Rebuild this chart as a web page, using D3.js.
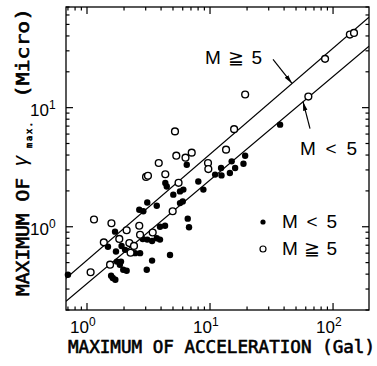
<!DOCTYPE html>
<html>
<head><meta charset="utf-8">
<title>Max shear strain vs max acceleration</title>
<style>
body { margin:0; background:#fff; }
text { font-family: "Liberation Sans", Arial, sans-serif; fill:#000; }
.title { font-family: "DejaVu Sans Mono", monospace; stroke:#000; stroke-width:0.6; }
</style>
</head>
<body>
<svg width="377" height="366"></svg>
<script src="https://cdn.jsdelivr.net/npm/d3@7/dist/d3.min.js"></script>
<script>
// M < 5 (filled dots)
var smallAcc   = [0.70,1.69,1.48,1.72,1.91,2.04,1.89,1.75,1.85,1.97,2.10,1.62,1.70,1.57,
                  2.66,2.87,3.09,3.69,4.33,4.45,5.03,5.70,6.07,5.70,6.00,6.47,8.03,8.83,
                  11.0,12.3,12.4,15.0,16.0,14.5,19.3,18.7,6.59,6.75,3.92,4.31,2.84,3.09,
                  3.69,3.38,3.92,2.70,2.46,3.38,4.73,3.06,37.1,2.30];
var smallGamma = [0.395,0.91,0.68,0.62,0.69,0.64,0.51,0.51,0.48,0.435,0.427,0.371,0.359,0.388,
                  1.39,1.35,1.60,1.50,2.33,2.18,1.86,1.98,2.05,1.58,1.63,3.32,2.40,2.05,
                  2.74,3.11,2.70,3.54,3.11,2.83,3.95,3.38,1.17,0.99,1.00,1.02,0.79,0.78,
                  0.80,0.76,0.78,0.60,0.60,0.52,0.58,0.435,7.2,0.70];
// M >= 5 (open circles)
var largeAcc   = [1.14,1.58,1.37,1.07,1.54,1.83,2.10,2.21,2.26,2.41,2.66,2.70,3.02,3.13,
                  3.42,3.83,4.33,5.32,6.32,7.10,5.55,4.97,9.63,9.69,13.5,5.19,15.7,19.3,
                  63.0,86.1,137,148];
var largeGamma = [1.15,1.07,0.74,0.415,0.48,0.79,0.935,0.73,0.605,0.69,1.02,0.857,2.62,2.68,
                  0.895,3.43,2.76,3.95,3.80,4.19,2.34,1.35,3.43,3.05,4.44,6.32,6.6,12.9,
                  12.4,25.7,41.1,42.4];
var xTicks = [1, 10, 100];
var yTicks = [1, 10];
// regression lines gamma = a * acc^b
var fitLarge = {a: 0.525, b: 0.89};
var fitSmall = {a: 0.333, b: 0.87};

var svg = d3.select("svg");
var x = d3.scaleLog().domain([0.675, 196]).range([66, 369]);
var y = d3.scaleLog().domain([0.2, 70]).range([310, 7]);

svg.append("defs").append("clipPath").attr("id", "clip")
  .append("rect").attr("x", 66).attr("y", 7).attr("width", 303).attr("height", 303);
svg.select("defs").append("marker")
  .attr("id", "head").attr("viewBox", "0 -3 9 6").attr("refX", 9).attr("refY", 0)
  .attr("markerWidth", 9).attr("markerHeight", 6).attr("markerUnits", "userSpaceOnUse")
  .attr("orient", "auto")
  .append("path").attr("d", "M0,-2.2L9,0L0,2.2Z").attr("fill", "#000");

// frame
svg.append("rect").attr("x", 66).attr("y", 7).attr("width", 303).attr("height", 303)
  .attr("fill", "none").attr("stroke", "#000").attr("stroke-width", 1.3);

// log ticks on all four sides, pointing inward
function logTicks(dom) {
  var t = [];
  for (var e = -1; e <= 2; e++)
    for (var k = 1; k <= 9; k++) {
      var v = k * Math.pow(10, e);
      if (v >= dom[0] && v <= dom[1]) t.push({v: v, major: k === 1});
    }
  return t;
}
var tk = svg.append("g").attr("stroke", "#000").attr("stroke-width", 1.2);
logTicks(x.domain()).forEach(function(d) {
  var L = d.major ? 7 : 3.5;
  tk.append("line").attr("x1", x(d.v)).attr("x2", x(d.v)).attr("y1", 310).attr("y2", 310 - L);
  tk.append("line").attr("x1", x(d.v)).attr("x2", x(d.v)).attr("y1", 7).attr("y2", 7 + L);
});
logTicks(y.domain()).forEach(function(d) {
  var L = d.major ? 7 : 3.5;
  tk.append("line").attr("y1", y(d.v)).attr("y2", y(d.v)).attr("x1", 66).attr("x2", 66 + L);
  tk.append("line").attr("y1", y(d.v)).attr("y2", y(d.v)).attr("x1", 369).attr("x2", 369 - L);
});

// tick labels
xTicks.forEach(function(v) {
  var t = svg.append("text").attr("x", x(v) - 17).attr("y", 333).attr("font-size", 17);
  t.append("tspan").text("10");
  t.append("tspan").attr("font-size", 12).attr("dy", -7).text(Math.round(Math.log10(v)));
});
yTicks.forEach(function(v) {
  var t = svg.append("text").attr("x", 30).attr("y", y(v) + 8).attr("font-size", 17);
  t.append("tspan").text("10");
  t.append("tspan").attr("font-size", 12).attr("dy", -7).text(Math.round(Math.log10(v)));
});

// fitted lines
var line = d3.line().x(function(d) { return x(d[0]); }).y(function(d) { return y(d[1]); });
var lg = svg.append("g").attr("clip-path", "url(#clip)");
[fitLarge, fitSmall].forEach(function(f) {
  var pts = x.domain().map(function(a) { return [a, f.a * Math.pow(a, f.b)]; });
  lg.append("path").attr("d", line(pts)).attr("fill", "none")
    .attr("stroke", "#000").attr("stroke-width", 1.2);
});

// points
svg.append("g").selectAll("circle").data(d3.zip(smallAcc, smallGamma)).enter()
  .append("circle").attr("cx", function(d) { return x(d[0]); })
  .attr("cy", function(d) { return y(d[1]); }).attr("r", 3.2).attr("fill", "#000");
svg.append("g").selectAll("circle").data(d3.zip(largeAcc, largeGamma)).enter()
  .append("circle").attr("cx", function(d) { return x(d[0]); })
  .attr("cy", function(d) { return y(d[1]); }).attr("r", 3.4)
  .attr("fill", "#fff").attr("stroke", "#000").attr("stroke-width", 1.4);

// annotations with arrows pointing at the lines
function tipOn(f, acc) { return [x(acc), y(f.a * Math.pow(acc, f.b))]; }
var t1 = tipOn(fitLarge, 46.4), t2 = tipOn(fitSmall, 57);
svg.append("line").attr("x1", t1[0] - 19).attr("y1", t1[1] - 24).attr("x2", t1[0]).attr("y2", t1[1])
  .attr("stroke", "#000").attr("stroke-width", 1.2).attr("marker-end", "url(#head)");
svg.append("line").attr("x1", t2[0] + 7).attr("y1", t2[1] + 27).attr("x2", t2[0]).attr("y2", t2[1])
  .attr("stroke", "#000").attr("stroke-width", 1.2).attr("marker-end", "url(#head)");
svg.append("text").attr("x", 205).attr("y", 64).attr("font-size", 19)
  .attr("textLength", 57).attr("lengthAdjust", "spacing").text("M \u2267 5");
svg.append("text").attr("x", 300).attr("y", 155).attr("font-size", 19)
  .attr("textLength", 57).attr("lengthAdjust", "spacing").text("M < 5");

// legend
svg.append("circle").attr("cx", 263).attr("cy", 222).attr("r", 2.6).attr("fill", "#000");
svg.append("circle").attr("cx", 263).attr("cy", 249).attr("r", 3)
  .attr("fill", "#fff").attr("stroke", "#000").attr("stroke-width", 1.2);
svg.append("text").attr("x", 282).attr("y", 228).attr("font-size", 19)
  .attr("textLength", 55).attr("lengthAdjust", "spacing").text("M < 5");
svg.append("text").attr("x", 282).attr("y", 255).attr("font-size", 19)
  .attr("textLength", 55).attr("lengthAdjust", "spacing").text("M \u2267 5");

// axis titles
svg.append("text").attr("class", "title").attr("x", 68).attr("y", 353)
  .attr("font-size", 17.5).attr("textLength", 307).attr("lengthAdjust", "spacingAndGlyphs")
  .text("MAXIMUM OF ACCELERATION (Gal)");
var yl = svg.append("g").attr("transform", "translate(29,0) rotate(-90)");
yl.append("text").attr("class", "title").attr("x", -296).attr("y", 0).attr("font-size", 18)
  .attr("textLength", 118).attr("lengthAdjust", "spacingAndGlyphs").text("MAXIMUM OF");
yl.append("text").attr("x", -166).attr("y", -2).attr("font-size", 20)
  .attr("font-family", "DejaVu Serif").attr("font-style", "italic").text("\u03b3");
yl.append("text").attr("class", "title").attr("x", -148).attr("y", 3).attr("font-size", 8.5)
  .attr("textLength", 26).attr("lengthAdjust", "spacing").text("max.");
yl.append("text").attr("class", "title").attr("x", -98).attr("y", 0).attr("font-size", 18)
  .attr("textLength", 90).attr("lengthAdjust", "spacingAndGlyphs").text("(Micro)");
</script>
</body>
</html>
